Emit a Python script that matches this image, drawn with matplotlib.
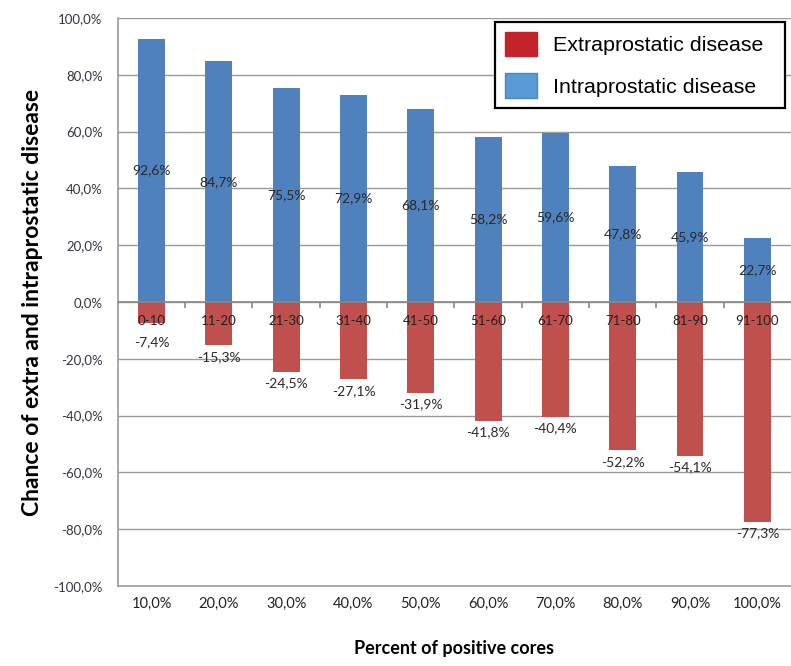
import matplotlib.pyplot as plt
from matplotlib.patches import Patch

# percent of positive cores groups
groups = ['0-10', '11-20', '21-30', '31-40', '41-50',
          '51-60', '61-70', '71-80', '81-90', '91-100']
bottom_labels = ['10,0%', '20,0%', '30,0%', '40,0%', '50,0%',
                 '60,0%', '70,0%', '80,0%', '90,0%', '100,0%']
intra = [92.6, 84.7, 75.5, 72.9, 68.1, 58.2, 59.6, 47.8, 45.9, 22.7]
extra = [-7.4, -15.3, -24.5, -27.1, -31.9, -41.8, -40.4, -52.2, -54.1, -77.3]
yticks = [-100, -80, -60, -40, -20, 0, 20, 40, 60, 80, 100]


def pct(v):
    return f'{v:.1f}%'.replace('.', ',')


fig = plt.figure(figsize=(7.91, 6.66), dpi=100)
ax = fig.add_axes([0.149, 0.120, 0.851, 0.853])

x = list(range(len(groups)))
ax.bar(x, intra, width=0.4, color='#4F81BD', zorder=2)
ax.bar(x, extra, width=0.4, color='#C0504D', zorder=2)

# value labels: blue in the middle, red just below the bar end
# (short red bars get their label pushed below the category text)
for xi, v in zip(x, intra):
    ax.text(xi, v / 2, pct(v), ha='center', va='center',
            fontsize=10, family='Lato', color='#2a2a2a', zorder=3)
for xi, v in zip(x, extra):
    ax.annotate(pct(v), (xi, min(v, -10)), xytext=(0, -8.5),
                textcoords='offset points', ha='center', va='center',
                fontsize=10, family='Lato', color='#2a2a2a', zorder=3)

ax.set_xlim(-0.5, 9.5)
ax.set_ylim(-100, 100)
ax.set_yticks(yticks)
ax.set_yticklabels([pct(v) for v in yticks], family='Lato', fontsize=9.5,
                   color='#333344')
ax.yaxis.grid(True, color='#9a9a9a', linewidth=1.0, zorder=0)
ax.tick_params(axis='y', length=0, pad=11)

# bottom labels without tick marks
ax.set_xticks(x)
ax.set_xticklabels(bottom_labels, family='Lato', fontsize=10.5, color='#222222')
ax.tick_params(axis='x', length=0, pad=8)

for side in ['top', 'right']:
    ax.spines[side].set_visible(False)
ax.spines['left'].set_color('#9a9a9a')
ax.spines['left'].set_linewidth(1.2)
ax.spines['bottom'].set_color('#9a9a9a')
ax.spines['bottom'].set_linewidth(1.2)

# category axis sitting on the zero line
cat = ax.twiny()
cat.set_xlim(ax.get_xlim())
for side in ['top', 'left', 'right']:
    cat.spines[side].set_visible(False)
cat.spines['bottom'].set_position(('data', 0))
cat.spines['bottom'].set_color('#888888')
cat.spines['bottom'].set_linewidth(1.2)
cat.xaxis.set_ticks_position('bottom')
cat.set_xticks(x)
cat.set_xticklabels(groups, family='Lato', fontsize=9.5, color='#222222')
cat.set_xticks([i + 0.5 for i in x[:-1]], minor=True)
cat.tick_params(axis='x', which='major', length=0, pad=9,
                labelbottom=True, labeltop=False)
cat.tick_params(axis='x', which='minor', length=4, color='#888888', width=1.2,
                direction='out')

ax.set_ylabel('Chance of extra and intraprostatic disease', family='Lato',
              fontweight='bold', fontsize=16.5, labelpad=7)
ax.set_xlabel('Percent of positive cores', family='Lato',
              fontweight='bold', fontsize=13, labelpad=21)

handles = [Patch(facecolor='#C4232B', edgecolor='#C4232B'),
           Patch(facecolor='#5B9BD5', edgecolor='#4A86C0')]
leg = cat.legend(handles, ['Extraprostatic disease  ', 'Intraprostatic disease  '],
                 loc='upper right', bbox_to_anchor=(0.991, 0.993),
                 borderaxespad=0, fancybox=False, edgecolor='black',
                 prop={'family': 'Liberation Sans', 'size': 15.4},
                 handlelength=1.5, handleheight=1.4, borderpad=0.45,
                 labelspacing=0.8, handletextpad=0.75, framealpha=1)
leg.get_frame().set_linewidth(1.6)

fig.savefig('out.png', dpi=100)
